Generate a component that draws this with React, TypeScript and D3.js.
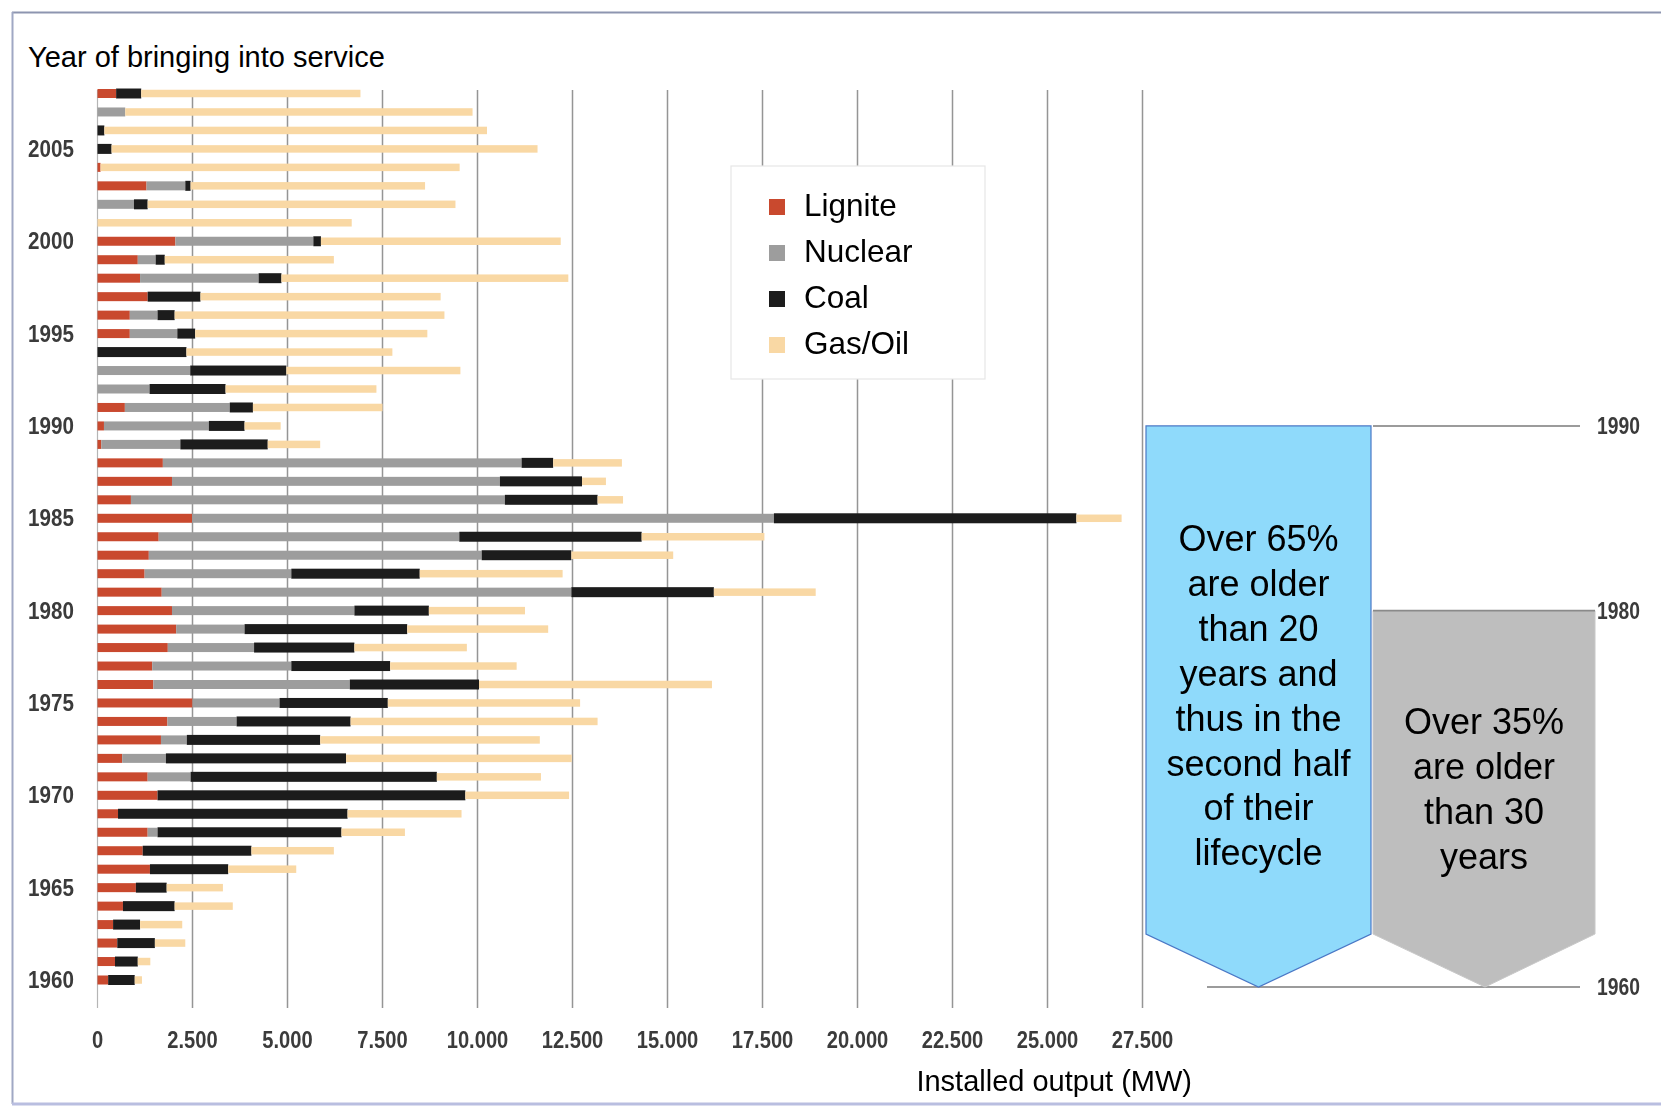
import React from "react";
import * as d3 from "d3";

// Installed output per commissioning year (MW), listed from 2008 down to 1960
const years = d3.range(2008, 1959, -1);
const lignite = [490, 0, 0, 0, 80, 1290, 0, 0, 2050, 1060, 1120, 1320, 850, 850, 0, 0, 0, 720, 170, 100, 1720, 1960, 880, 2490, 1610, 1350, 1240, 1690, 1960, 2070, 1850, 1440, 1470, 2500, 1840, 1670, 650, 1320, 1580, 540, 1320, 1190, 1380, 1010, 670, 410, 520, 460, 280];
const nuclear = [0, 730, 0, 0, 0, 1020, 960, 0, 3630, 470, 3120, 0, 730, 1250, 0, 2440, 1370, 2760, 2760, 2080, 9440, 8630, 9840, 15310, 7910, 8760, 3860, 10780, 4800, 1800, 2270, 3660, 5170, 2290, 1820, 680, 1150, 1130, 0, 0, 260, 0, 0, 0, 0, 0, 0, 0, 0];
const coal = [660, 0, 180, 370, 0, 140, 360, 0, 200, 240, 600, 1390, 450, 470, 2340, 2530, 2000, 610, 940, 2300, 830, 2160, 2440, 7960, 4800, 2360, 3380, 3750, 1960, 4280, 2640, 2600, 3400, 2850, 3000, 3510, 4740, 6480, 8100, 6040, 4840, 2860, 2060, 810, 1360, 710, 990, 600, 700];
const gasOil = [5770, 9140, 10070, 11210, 9450, 6170, 8100, 6690, 6310, 4450, 7550, 6320, 7100, 6110, 5420, 4580, 3970, 3410, 950, 1380, 1810, 630, 670, 1190, 3230, 2680, 3760, 2680, 2530, 3710, 2960, 3330, 6130, 5060, 6500, 5780, 5940, 2740, 2730, 3000, 1670, 2170, 1790, 1480, 1530, 1110, 800, 330, 190];

const seriesKeys = ["Lignite", "Nuclear", "Coal", "Gas/Oil"];
const seriesColors = ["#c9482f", "#9d9d9d", "#1f1f1f", "#f9d8a4"];
const yearTicks = [1960, 1965, 1970, 1975, 1980, 1985, 1990, 1995, 2000, 2005];
const xTicks = d3.range(0, 27501, 2500);

const blueNote = ["Over 65%", "are older", "than 20", "years and", "thus in the", "second half", "of their", "lifecycle"];
const grayNote = ["Over 35%", "are older", "than 30", "years"];
const markerYears = [1990, 1980, 1960];

const W = 1661;
const H = 1107;

export default function App() {
  const x = d3.scaleLinear().domain([0, 27500]).range([97.5, 1142.5]);
  const y = d3.scaleLinear().domain([1960, 2008]).range([980, 93.5]);
  const fmt = d3.formatLocale({ decimal: ",", thousands: ".", grouping: [3], currency: ["", ""] }).format(",");

  const rows = years.map((yr, i) => ({
    year: yr,
    Lignite: lignite[i],
    Nuclear: nuclear[i],
    Coal: coal[i],
    "Gas/Oil": gasOil[i],
  }));
  const stacked = d3.stack<any>().keys(seriesKeys)(rows);
  const thickness = [9, 9, 10, 7.5];

  const labelFont = "'Liberation Sans', Arial, sans-serif";
  const axisTextStyle = {
    fontFamily: labelFont,
    fontWeight: 700,
    fontSize: 24,
    fill: "#3b3b3b",
  } as const;

  const yTop = y(1990);
  const yMid = y(1980);
  const yBottom = y(1960) + 7;
  const sideBottom = 934;

  const blueL = 1146, blueR = 1371, blueTip = 1258.5;
  const grayL = 1373, grayR = 1595, grayTip = 1485;

  return (
    <svg
      width={W}
      height={H}
      style={{ position: "absolute", left: 0, top: 0, background: "#fff" }}
      fontFamily={labelFont}
    >
      <defs>
        <filter id="soft" x="-5%" y="-5%" width="110%" height="110%">
          <feGaussianBlur stdDeviation="0.6" />
        </filter>
      </defs>
      <rect x={0} y={0} width={W} height={H} fill="#fff" />

      {/* frame */}
      <line x1={12} x2={W} y1={12.5} y2={12.5} stroke="#8d95b0" strokeWidth={2} />
      <line x1={12.5} x2={12.5} y1={12} y2={1104} stroke="#a0a8c4" strokeWidth={2} />
      <line x1={12} x2={W} y1={1104} y2={1104} stroke="#b9bee0" strokeWidth={3} />

      <text x={28} y={67} fontSize={29} fill="#000">Year of bringing into service</text>

      <g filter="url(#soft)">
        {/* vertical grid */}
        {xTicks.map((t) => (
          <line
            key={"g" + t}
            x1={x(t)}
            x2={x(t)}
            y1={90}
            y2={1008}
            stroke={t === 0 ? "#b5b5b5" : "#959595"}
            strokeWidth={t === 0 ? 1.2 : 1.5}
          />
        ))}

        {/* stacked bars */}
        {stacked.map((s, si) => (
          <g key={s.key}>
            {s.map((d: any, i: number) => {
              const w = x(d[1]) - x(d[0]);
              if (w <= 0) return null;
              const h = thickness[si];
              return (
                <rect
                  key={i}
                  x={x(d[0])}
                  y={y(d.data.year) - h / 2}
                  width={w}
                  height={h}
                  fill={seriesColors[si]}
                />
              );
            })}
          </g>
        ))}

        {/* year labels */}
        {yearTicks.map((t) => (
          <text
            key={"y" + t}
            transform={`translate(74,${y(t)}) scale(0.86,1)`}
            textAnchor="end"
            dominantBaseline="central"
            style={axisTextStyle}
          >
            {t}
          </text>
        ))}

        {/* output labels */}
        {xTicks.map((t) => (
          <text
            key={"x" + t}
            transform={`translate(${x(t)},1048) scale(0.84,1)`}
            textAnchor="middle"
            style={axisTextStyle}
          >
            {fmt(t)}
          </text>
        ))}

        {/* reference years on the right */}
        {markerYears.map((t) => (
          <text
            key={"m" + t}
            transform={`translate(1597,${t === 1960 ? yBottom : y(t)}) scale(0.84,1)`}
            dominantBaseline="central"
            style={{ ...axisTextStyle, fontSize: 23 }}
          >
            {t}
          </text>
        ))}
      </g>

      <text x={1192} y={1091} textAnchor="end" fontSize={29} fill="#000">Installed output (MW)</text>

      {/* legend */}
      <rect x={731} y={166} width={254} height={213} fill="#fff" stroke="#e6e6e6" strokeWidth={1.2} />
      {seriesKeys.map((k, i) => (
        <g key={k} transform={`translate(0,${216 + i * 46})`}>
          <rect x={769} y={-17} width={16} height={16} fill={seriesColors[i]} filter="url(#soft)" />
          <text x={804} y={0} fontSize={31.5} fill="#000">{k}</text>
        </g>
      ))}

      {/* age brackets */}
      <line x1={grayL} x2={1580} y1={yTop} y2={yTop} stroke="#7a7a7a" strokeWidth={1.6} />
      <line x1={1207} x2={1580} y1={yBottom} y2={yBottom} stroke="#7a7a7a" strokeWidth={1.6} />
      <polygon
        points={`${blueL},${yTop} ${blueR},${yTop} ${blueR},${sideBottom} ${blueTip},${yBottom} ${blueL},${sideBottom}`}
        fill="#8fdafb"
        stroke="#4a78c6"
        strokeWidth={1.2}
      />
      <polygon
        points={`${grayL},${yMid} ${grayR},${yMid} ${grayR},${sideBottom} ${grayTip},${yBottom} ${grayL},${sideBottom}`}
        fill="#bebebe"
        stroke="#c8c8c8"
        strokeWidth={1}
      />
      <line x1={grayL} x2={grayR} y1={yMid} y2={yMid} stroke="#8a8a8a" strokeWidth={1.6} />

      {blueNote.map((t, i) => (
        <text key={"b" + i} x={blueTip} y={551 + i * 44.9} textAnchor="middle" fontSize={36} fill="#000">
          {t}
        </text>
      ))}
      {grayNote.map((t, i) => (
        <text key={"n" + i} x={grayTip - 1} y={734 + i * 44.9} textAnchor="middle" fontSize={36} fill="#000">
          {t}
        </text>
      ))}
    </svg>
  );
}
